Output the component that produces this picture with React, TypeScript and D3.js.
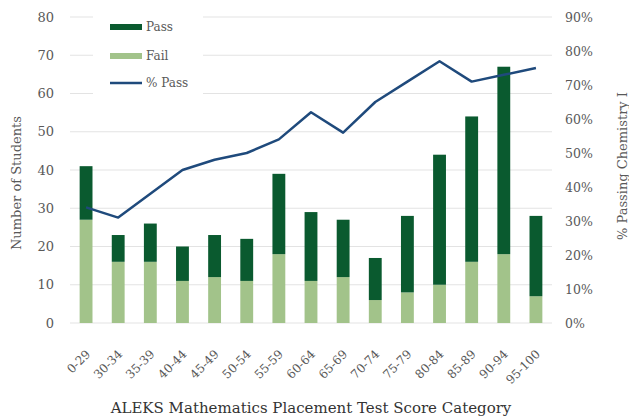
import React, { useEffect, useRef } from "react";
import * as d3 from "d3";

const categories = [
  "0-29", "30-34", "35-39", "40-44", "45-49", "50-54", "55-59", "60-64",
  "65-69", "70-74", "75-79", "80-84", "85-89", "90-94", "95-100",
];
const passCounts = [14, 7, 10, 9, 11, 11, 21, 18, 15, 11, 20, 34, 38, 49, 21];
const failCounts = [27, 16, 16, 11, 12, 11, 18, 11, 12, 6, 8, 10, 16, 18, 7];
const pctPass = [34, 31, 38, 45, 48, 50, 54, 62, 56, 65, 71, 77, 71, 73, 75];
const leftTicks = [0, 10, 20, 30, 40, 50, 60, 70, 80];
const rightTicks = [0, 10, 20, 30, 40, 50, 60, 70, 80, 90];

const PASS_COLOR = "#0a5a2f";
const FAIL_COLOR = "#a2c38a";
const LINE_COLOR = "#1f4a7c";
const TEXT_COLOR = "#595959";
const FONT = "'DejaVu Serif', serif";

export default function App() {
  const svgRef = useRef<SVGSVGElement>(null);

  useEffect(() => {
    drawChart();
  }, []);

  const drawChart = () => {
    const svg = d3.select(svgRef.current);
    svg.selectAll("*").remove();

    const margin = { top: 17, right: 77, bottom: 96, left: 70 };
    const width = 629;
    const height = 419;
    const bottomY = height - margin.bottom;

    const x = d3
      .scaleBand()
      .domain(categories)
      .range([margin.left, width - margin.right])
      .paddingInner(0.6)
      .paddingOuter(0.3);

    const y = d3.scaleLinear().domain([0, 80]).range([bottomY, margin.top]);
    const yRight = d3.scaleLinear().domain([0, 90]).range([bottomY, margin.top]);

    // gridlines
    svg
      .append("g")
      .selectAll("line")
      .data(leftTicks)
      .enter()
      .append("line")
      .attr("x1", margin.left)
      .attr("x2", width - margin.right)
      .attr("y1", (d) => y(d))
      .attr("y2", (d) => y(d))
      .attr("stroke", "#e3e3e3")
      .attr("stroke-width", 1);

    // stacked bars
    const rows = categories.map((c, i) => ({
      cat: c,
      fail: failCounts[i],
      pass: passCounts[i],
    }));
    const stacked = d3.stack<any>().keys(["fail", "pass"])(rows);
    const colors: Record<string, string> = { fail: FAIL_COLOR, pass: PASS_COLOR };

    svg
      .append("g")
      .selectAll("g")
      .data(stacked)
      .enter()
      .append("g")
      .attr("fill", (s) => colors[s.key])
      .selectAll("rect")
      .data((s) => s)
      .enter()
      .append("rect")
      .attr("x", (d: any) => x(d.data.cat)!)
      .attr("y", (d) => y(d[1]))
      .attr("width", x.bandwidth())
      .attr("height", (d) => y(d[0]) - y(d[1]));

    // % pass line
    const line = d3
      .line<number>()
      .x((d, i) => x(categories[i])! + x.bandwidth() / 2)
      .y((d) => yRight(d));

    svg
      .append("path")
      .datum(pctPass)
      .attr("d", line)
      .attr("fill", "none")
      .attr("stroke", LINE_COLOR)
      .attr("stroke-width", 2.5)
      .attr("stroke-linejoin", "round");

    // left axis
    const leftAxis = svg
      .append("g")
      .attr("transform", `translate(${margin.left - 16},0)`)
      .call(d3.axisLeft(y).tickValues(leftTicks).tickSize(0).tickPadding(0));
    leftAxis.select(".domain").remove();
    leftAxis
      .selectAll("text")
      .attr("fill", TEXT_COLOR)
      .style("font-family", FONT)
      .style("font-size", "13px");

    // right axis
    const rightAxis = svg
      .append("g")
      .attr("transform", `translate(${width - margin.right + 13},0)`)
      .call(
        d3
          .axisRight(yRight)
          .tickValues(rightTicks)
          .tickFormat((d) => `${d}%`)
          .tickSize(0)
          .tickPadding(0)
      );
    rightAxis.select(".domain").remove();
    rightAxis
      .selectAll("text")
      .attr("fill", TEXT_COLOR)
      .style("font-family", FONT)
      .style("font-size", "12.5px");

    // x axis labels
    const xAxis = svg
      .append("g")
      .attr("transform", `translate(0,${bottomY})`)
      .call(d3.axisBottom(x).tickSize(0).tickPadding(0));
    xAxis.select(".domain").remove();
    xAxis
      .selectAll("text")
      .attr("fill", TEXT_COLOR)
      .style("font-family", FONT)
      .style("font-size", "12px")
      .attr("text-anchor", "end")
      .attr("dy", "0.35em")
      .attr("transform", "translate(2,29) rotate(-45)");

    // axis titles
    svg
      .append("text")
      .attr("transform", `translate(21,183) rotate(-90)`)
      .attr("text-anchor", "middle")
      .attr("fill", TEXT_COLOR)
      .style("font-family", FONT)
      .style("font-size", "13px")
      .text("Number of Students");

    svg
      .append("text")
      .attr("transform", `translate(627,166) rotate(-90)`)
      .attr("text-anchor", "middle")
      .attr("fill", TEXT_COLOR)
      .style("font-family", FONT)
      .style("font-size", "13px")
      .text("% Passing Chemistry I");

    svg
      .append("text")
      .attr("x", 311)
      .attr("y", 413)
      .attr("text-anchor", "middle")
      .attr("fill", "#333333")
      .style("font-family", FONT)
      .style("font-size", "15px")
      .text("ALEKS Mathematics Placement Test Score Category");

    // legend
    const legend = svg.append("g");
    legend
      .append("rect")
      .attr("x", 93)
      .attr("y", 10)
      .attr("width", 110)
      .attr("height", 88)
      .attr("fill", "#ffffff");

    const items = [
      { label: "Pass", type: "bar", color: PASS_COLOR, y: 27 },
      { label: "Fail", type: "bar", color: FAIL_COLOR, y: 56 },
      { label: "% Pass", type: "line", color: LINE_COLOR, y: 83 },
    ];
    items.forEach((it) => {
      if (it.type === "bar") {
        legend
          .append("rect")
          .attr("x", 110)
          .attr("y", it.y - 3)
          .attr("width", 32)
          .attr("height", 6)
          .attr("fill", it.color);
      } else {
        legend
          .append("line")
          .attr("x1", 110)
          .attr("x2", 142)
          .attr("y1", it.y)
          .attr("y2", it.y)
          .attr("stroke", it.color)
          .attr("stroke-width", 2.5);
      }
      legend
        .append("text")
        .attr("x", 146)
        .attr("y", it.y + 4)
        .attr("fill", TEXT_COLOR)
        .style("font-family", FONT)
        .style("font-size", "12px")
        .text(it.label);
    });
  };

  return (
    <svg
      ref={svgRef}
      width={629}
      height={419}
      style={{ position: "absolute", left: 0, top: 0, background: "#fff" }}
    ></svg>
  );
}
